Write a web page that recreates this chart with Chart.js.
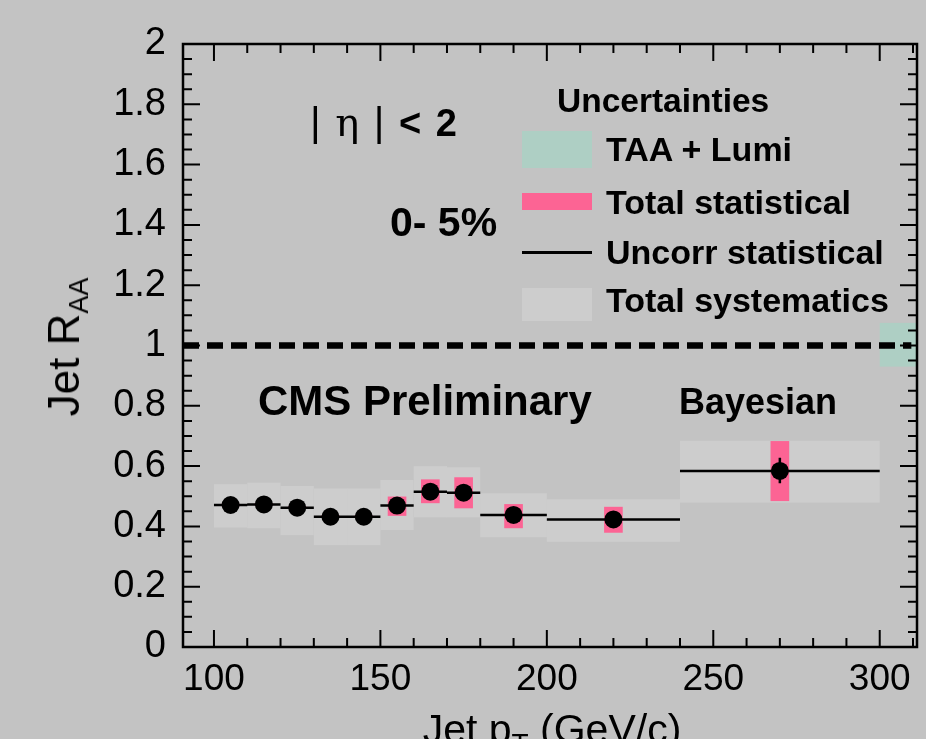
<!DOCTYPE html>
<html>
<head>
<meta charset="utf-8">
<script src="https://cdn.jsdelivr.net/npm/chart.js@4.4.1/dist/chart.umd.min.js"></script>
<style>
  html,body{margin:0;padding:0;background:#c3c3c3;}
  #wrap{position:relative;width:926px;height:739px;overflow:hidden;background:#c3c3c3;font-family:"Liberation Sans",Arial,sans-serif;color:#000;}
  #c{position:absolute;left:0;top:0;}
  .t{position:absolute;white-space:nowrap;line-height:1;font-weight:bold;}
  .sym{position:absolute;}
</style>
</head>
<body>
<div id="wrap">
  <canvas id="c" width="926" height="739"></canvas>
  <div class="t" style="left:310px;top:102px;font-size:38px;word-spacing:4px;"><span style="font-weight:normal;font-size:41px;">|</span> <span style="font-family:'DejaVu Serif';font-weight:normal;font-size:40px;">η</span> <span style="font-weight:normal;font-size:41px;">|</span> &lt; 2</div>
  <div class="t" style="left:390px;top:202px;font-size:41px;">0- 5%</div>
  <div class="t" style="left:557px;top:84px;font-size:33.5px;">Uncertainties</div>
  <div class="sym" style="left:522px;top:131px;width:70px;height:37px;background:#aecfc4;"></div>
  <div class="t" style="left:606px;top:132px;font-size:34px;">TAA + Lumi</div>
  <div class="sym" style="left:522px;top:193px;width:70px;height:17px;background:#fc6494;"></div>
  <div class="t" style="left:606px;top:185px;font-size:34px;">Total statistical</div>
  <div class="sym" style="left:522px;top:251px;width:70px;height:3px;background:#000;"></div>
  <div class="t" style="left:606px;top:235px;font-size:34px;">Uncorr statistical</div>
  <div class="sym" style="left:522px;top:288px;width:70px;height:33px;background:#cdcdcd;"></div>
  <div class="t" style="left:606px;top:283px;font-size:34px;">Total systematics</div>
  <div class="t" style="left:258px;top:380px;font-size:42px;">CMS Preliminary</div>
  <div class="t" style="left:679px;top:384px;font-size:36px;">Bayesian</div>
  <div class="t" style="left:64px;top:347px;font-size:44px;font-weight:normal;transform:translate(-50%,-50%) rotate(-90deg);">Jet R<span style="font-size:27px;position:relative;top:9px;">AA</span></div>
  <div class="t" style="left:0;width:1104px;top:709px;font-size:41px;font-weight:normal;text-align:center;">Jet p<span style="font-size:28px;position:relative;top:10px;">T</span> (GeV/c)</div>
</div>
<script>
// ---- data ----
const ptCenter = [105, 115, 125, 135, 145, 155, 165, 175, 190, 220, 270];
const binLow   = [100, 110, 120, 130, 140, 150, 160, 170, 180, 200, 240];
const binHigh  = [110, 120, 130, 140, 150, 160, 170, 180, 200, 240, 300];
const raa      = [0.471, 0.473, 0.462, 0.432, 0.432, 0.469, 0.515, 0.512, 0.438, 0.423, 0.584];
const statLow  = [0.467, 0.469, 0.458, 0.428, 0.428, 0.435, 0.477, 0.460, 0.394, 0.379, 0.484];
const statHigh = [0.475, 0.477, 0.466, 0.436, 0.436, 0.499, 0.556, 0.563, 0.474, 0.465, 0.683];
const uncorrLow  = [0.460, 0.462, 0.451, 0.421, 0.421, 0.455, 0.498, 0.494, 0.418, 0.403, 0.543];
const uncorrHigh = [0.482, 0.484, 0.473, 0.443, 0.443, 0.483, 0.532, 0.530, 0.458, 0.443, 0.628];
const sysLow   = [0.396, 0.394, 0.371, 0.338, 0.338, 0.388, 0.430, 0.430, 0.364, 0.349, 0.479];
const sysHigh  = [0.540, 0.545, 0.534, 0.526, 0.526, 0.554, 0.600, 0.596, 0.510, 0.490, 0.684];
const normBoxX = [300, 311.2];
const normBoxY = [0.93, 1.075];
const unityX = [90.7, 309.5];
const unityY = [1, 1];
const xTickValues = [100, 150, 200, 250, 300];
const xTickLabels = ['100', '150', '200', '250', '300'];
const yTickValues = [0, 0.2, 0.4, 0.6, 0.8, 1, 1.2, 1.4, 1.6, 1.8, 2];
const yTickLabels = ['0', '0.2', '0.4', '0.6', '0.8', '1', '1.2', '1.4', '1.6', '1.8', '2'];

// ---- styles ----
const SYS_COLOR = '#cdcdcd';
const STAT_COLOR = '#fc6494';
const NORM_COLOR = '#aecfc4';
const STAT_HALF_WIDTH = 2.8; // GeV
const FONT = '"Liberation Sans", Arial, sans-serif';

const hepPlugin = {
  id: 'hep',
  beforeDatasetsDraw(chart) {
    const {ctx, scales: {x, y}} = chart;
    ctx.save();
    ctx.fillStyle = SYS_COLOR;
    for (let i = 0; i < ptCenter.length; i++) {
      const x0 = x.getPixelForValue(binLow[i]), x1 = x.getPixelForValue(binHigh[i]);
      const y0 = y.getPixelForValue(sysHigh[i]), y1 = y.getPixelForValue(sysLow[i]);
      ctx.fillRect(x0, y0, x1 - x0, y1 - y0);
    }
    ctx.fillStyle = NORM_COLOR;
    {
      const x0 = x.getPixelForValue(normBoxX[0]), x1 = x.getPixelForValue(normBoxX[1]);
      const y0 = y.getPixelForValue(normBoxY[1]), y1 = y.getPixelForValue(normBoxY[0]);
      ctx.fillRect(x0, y0, x1 - x0, y1 - y0);
    }
    ctx.fillStyle = STAT_COLOR;
    for (let i = 0; i < ptCenter.length; i++) {
      const x0 = x.getPixelForValue(ptCenter[i] - STAT_HALF_WIDTH), x1 = x.getPixelForValue(ptCenter[i] + STAT_HALF_WIDTH);
      const y0 = y.getPixelForValue(statHigh[i]), y1 = y.getPixelForValue(statLow[i]);
      ctx.fillRect(x0, y0, x1 - x0, y1 - y0);
    }
    ctx.strokeStyle = '#000';
    ctx.lineWidth = 2.5;
    ctx.beginPath();
    for (let i = 0; i < ptCenter.length; i++) {
      const yy = y.getPixelForValue(raa[i]);
      ctx.moveTo(x.getPixelForValue(binLow[i]), yy);
      ctx.lineTo(x.getPixelForValue(binHigh[i]), yy);
      const xx = x.getPixelForValue(ptCenter[i]);
      ctx.moveTo(xx, y.getPixelForValue(uncorrLow[i]));
      ctx.lineTo(xx, y.getPixelForValue(uncorrHigh[i]));
    }
    ctx.stroke();
    ctx.restore();
  },
  afterDraw(chart) {
    const {ctx, chartArea: a, scales: {x, y}} = chart;
    ctx.save();
    ctx.strokeStyle = '#000';
    ctx.lineWidth = 2.5;
    ctx.strokeRect(a.left, a.top, a.right - a.left, a.bottom - a.top);
    ctx.lineWidth = 2;
    ctx.beginPath();
    const MAJ = 17, MIN = 9;
    for (let v = 100; v <= x.max + 1e-9; v += 10) {
      const px = x.getPixelForValue(v);
      const len = (v % 50 === 0) ? MAJ : MIN;
      ctx.moveTo(px, a.bottom); ctx.lineTo(px, a.bottom - len);
      ctx.moveTo(px, a.top); ctx.lineTo(px, a.top + len);
    }
    for (let k = 0; k <= 40; k++) {
      const v = k * 0.05;
      const py = y.getPixelForValue(v);
      const len = (k % 4 === 0) ? MAJ : MIN;
      ctx.moveTo(a.left, py); ctx.lineTo(a.left + len, py);
      ctx.moveTo(a.right, py); ctx.lineTo(a.right - len, py);
    }
    ctx.stroke();
    ctx.restore();
  }
};

new Chart(document.getElementById('c'), {
  type: 'scatter',
  data: {
    datasets: [
      {
        label: 'Jet RAA',
        data: ptCenter.map((v, i) => ({x: v, y: raa[i]})),
        pointRadius: 9,
        pointBackgroundColor: '#000',
        pointBorderWidth: 0,
        showLine: false
      },
      {
        type: 'line',
        label: 'unity',
        data: unityX.map((v, i) => ({x: v, y: unityY[i]})),
        borderColor: '#000',
        borderWidth: 6.5,
        borderDash: [16, 8],
        pointRadius: 0,
        fill: false
      }
    ]
  },
  options: {
    responsive: false,
    animation: false,
    layout: {padding: {left: 0, right: 9, top: 44, bottom: 0}},
    plugins: {legend: {display: false}, tooltip: {enabled: false}},
    scales: {
      x: {
        type: 'linear', min: 90.7, max: 311.2,
        grid: {display: false, drawTicks: false},
        border: {display: false},
        ticks: {font: {family: FONT, size: 37}, color: '#000', padding: 11, maxRotation: 0, autoSkip: false,
          callback: (v) => xTickLabels[xTickValues.indexOf(v)]},
        afterBuildTicks: (s) => { s.ticks = xTickValues.map(v => ({value: v})); },
        afterFit: (s) => { s.height = 92; }
      },
      y: {
        type: 'linear', min: 0, max: 2,
        grid: {display: false, drawTicks: false},
        border: {display: false},
        ticks: {font: {family: FONT, size: 38}, color: '#000', padding: 17, autoSkip: false,
          callback: (v) => yTickLabels[yTickValues.indexOf(v)]},
        afterBuildTicks: (s) => { s.ticks = yTickValues.map(v => ({value: v})); },
        afterFit: (s) => { s.width = 183; }
      }
    }
  },
  plugins: [hepPlugin]
});
</script>
</body>
</html>
